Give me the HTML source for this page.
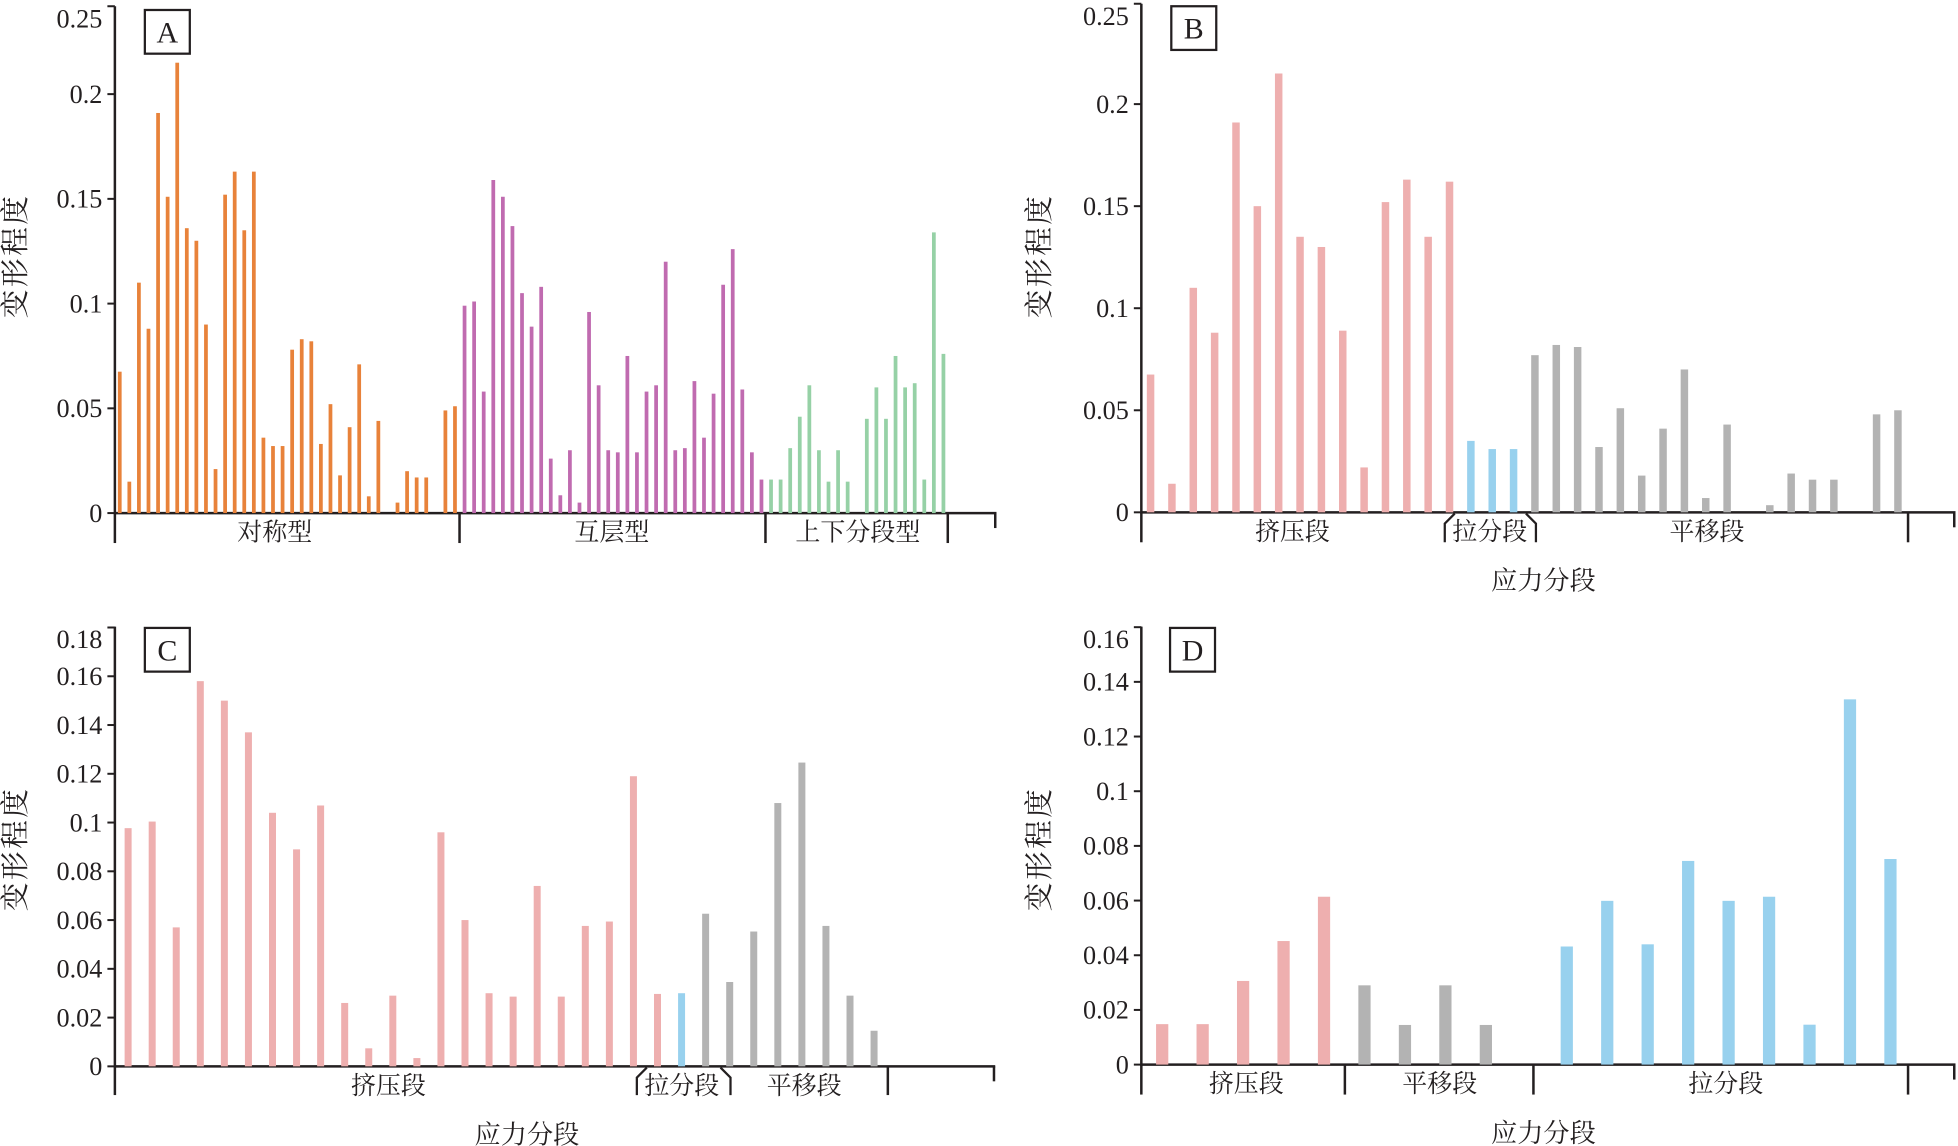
<!DOCTYPE html>
<html><head><meta charset="utf-8">
<style>
html,body{margin:0;padding:0;background:#fff;}
svg{display:block;}
text{font-family:"Liberation Serif","Noto Serif CJK SC","Noto Sans CJK SC",serif;fill:#231f20;}
.cjk{font-family:"Liberation Serif","Noto Serif CJK SC","Noto Sans CJK SC",serif;}
</style></head>
<body>
<svg id="fig" width="1958" height="1146" viewBox="0 0 1568 918" preserveAspectRatio="none" xmlns="http://www.w3.org/2000/svg"></svg>
<script>
// ---- Panel A data ----
const aSymValues=[0.0675,0.015,0.110,0.088,0.191,0.151,0.215,0.136,0.130,0.090,0.021,0.152,0.163,0.135,0.163,0.036,0.032,0.032,0.078,0.083,0.082,0.033,0.052,0.018,0.041,0.071,0.008,0.044,0,0.005,0.020,0.017,0.017,0,0.049,0.051];
const aInterValues=[0.099,0.101,0.058,0.159,0.151,0.137,0.105,0.089,0.108,0.026,0.0085,0.030,0.005,0.096,0.061,0.030,0.029,0.075,0.029,0.058,0.061,0.120,0.030,0.031,0.063,0.036,0.057,0.109,0.126,0.059,0.029,0.016];
const aUpDownValues=[0.016,0.016,0.031,0.046,0.061,0.030,0.015,0.030,0.015,0,0.045,0.060,0.045,0.075,0.060,0.062,0.016,0.134,0.076];
const aTicks=[0,0.05,0.1,0.15,0.2,0.25];
const aTickLabels=["0","0.05","0.1","0.15","0.2","0.25"];
const aCategories=["对称型","互层型","上下分段型"];
// ---- Panel B data ----
const bCompValues=[0.0675,0.014,0.110,0.088,0.191,0.150,0.215,0.135,0.130,0.089,0.022,0.152,0.163,0.135,0.162];
const bExtValues=[0.035,0.031,0.031];
const bStrikeValues=[0.077,0.082,0.081,0.032,0.051,0.018,0.041,0.070,0.007,0.043,0,0.0035,0.019,0.016,0.016,0,0.048,0.050];
const bTicks=[0,0.05,0.1,0.15,0.2,0.25];
const bTickLabels=["0","0.05","0.1","0.15","0.2","0.25"];
const bCategories=["挤压段","拉分段","平移段"];
// ---- Panel C data ----
const cCompValues=[0.0977,0.1004,0.057,0.158,0.150,0.137,0.104,0.089,0.107,0.026,0.0074,0.029,0.0034,0.096,0.060,0.030,0.0286,0.074,0.0286,0.0576,0.0594,0.119,0.0297];
const cExtValues=[0.030];
const cStrikeValues=[0.0626,0.0346,0.0553,0.108,0.1246,0.0576,0.029,0.0146];
const cTicks=[0,0.02,0.04,0.06,0.08,0.1,0.12,0.14,0.16,0.18];
const cTickLabels=["0","0.02","0.04","0.06","0.08","0.1","0.12","0.14","0.16","0.18"];
const cCategories=["挤压段","拉分段","平移段"];
// ---- Panel D data ----
const dCompValues=[0.0148,0.0148,0.0306,0.0452,0.0614];
const dStrikeValues=[0.029,0.0145,0.029,0.0145,0];
const dExtValues=[0.0432,0.0599,0.044,0.0745,0.0599,0.0614,0.0146,0.1336,0.0752];
const dTicks=[0,0.02,0.04,0.06,0.08,0.1,0.12,0.14,0.16];
const dTickLabels=["0","0.02","0.04","0.06","0.08","0.1","0.12","0.14","0.16"];
const dCategories=["挤压段","平移段","拉分段"];

const NS="http://www.w3.org/2000/svg";
const svg=document.getElementById('fig');
function mk(tag,attrs,parent){const e=document.createElementNS(NS,tag);for(const k in attrs)e.setAttribute(k,attrs[k]);(parent||svg).appendChild(e);return e;}
const AX="#231f20";

function panel(cfg){
  const g=mk('g',{});
  
  
  const y=v=>cfg.y0-v*cfg.k;
  // axes
  const ya=mk('line',{x1:cfg.ax,y1:cfg.top,x2:cfg.ax,y2:cfg.y0+1,stroke:AX,'stroke-width':2},g);
  
  
  const xa=mk('line',{x1:cfg.ax,y1:cfg.y0,x2:cfg.xEnd,y2:cfg.y0,stroke:AX,'stroke-width':2},g);
  
  
  cfg.ticks.forEach((t,i)=>{
    const ty=Math.max(y(t),cfg.top);
    mk('line',{x1:cfg.ax-6,y1:ty,x2:cfg.ax,y2:ty,stroke:AX,'stroke-width':1.6},g);
    const lbl=mk('text',{x:cfg.ax-10,y:Math.max(ty,cfg.top+10)+7,'text-anchor':'end','font-size':21},g);
    lbl.textContent=cfg.tickLabels[i];
    
    
  });
  // bars
  let idx=0;
  cfg.series.forEach(s=>{
    s.values.forEach(v=>{
      const cx=cfg.x0+idx*cfg.step;
      if(v>0){
        const b=mk('rect',{x:cx-cfg.bw/2,y:y(v),width:cfg.bw,height:cfg.y0-y(v),fill:s.color},g);
        
        
      }
      idx++;
    });
  });
  // category separators
  cfg.seps.forEach(sx=>{mk('line',{x1:sx,y1:cfg.y0,x2:sx,y2:cfg.y0+cfg.sepH,stroke:AX,'stroke-width':2},g);});
  mk('line',{x1:cfg.xEnd-1,y1:cfg.y0,x2:cfg.xEnd-1,y2:cfg.y0+12,stroke:AX,'stroke-width':2},g);
  if(cfg.bracket){
    const [l,r]=cfg.bracket,b=cfg.y0+cfg.sepH;
    mk('path',{d:`M${l+8} ${cfg.y0+1} L${l} ${cfg.y0+9} L${l} ${b}`,fill:'none',stroke:AX,'stroke-width':1.8},g);
    mk('path',{d:`M${r-8} ${cfg.y0+1} L${r} ${cfg.y0+9} L${r} ${b}`,fill:'none',stroke:AX,'stroke-width':1.8},g);
  }
  cfg.cats.forEach((c,i)=>{
    const t=mk('text',{x:cfg.catX[i],y:cfg.y0+22,'text-anchor':'middle','font-size':20,class:'cjk'},g);
    t.textContent=c;
    
    
  });
  if(cfg.xTitle){
    const t=mk('text',{x:cfg.xTitleX,y:cfg.y0+62,'text-anchor':'middle','font-size':21,class:'cjk'},g);
    t.textContent='应力分段';
    
    
  }
  const yt=mk('text',{x:0,y:0,'text-anchor':'middle','font-size':23,class:'cjk',transform:`translate(${cfg.ytX},${cfg.ytY}) rotate(-90)`,'letter-spacing':2},g);
  yt.textContent='变形程度';
  
  
  const bx=mk('rect',{x:cfg.box[0],y:cfg.box[1],width:36,height:35,fill:'#fff',stroke:AX,'stroke-width':1.8},g);
  
  
  const bt=mk('text',{x:cfg.box[0]+18,y:cfg.box[1]+26,'text-anchor':'middle','font-size':24},g);
  bt.textContent=cfg.letter;
  
  
}

panel({name:'panel-a',letter:'A',ax:92,top:5,y0:411,k:1678,xEnd:798,x0:95.9,step:7.67,bw:3,
  ticks:aTicks,tickLabels:aTickLabels,
  series:[{name:'symmetric',values:aSymValues,color:'#E8823A'},{name:'interlayer',values:aInterValues,color:'#C06BB0'},{name:'updown',values:aUpDownValues,color:'#96D1A6'}],
  seps:[92,368,613,759],sepH:24,cats:aCategories,catX:[220,490,687],xTitle:false,
  ytX:20,ytY:205,box:[116,8]});

panel({name:'panel-b',letter:'B',ax:914,top:3,y0:410.4,k:1635,xEnd:1566,x0:921.4,step:17.1,bw:6,
  ticks:bTicks,tickLabels:bTickLabels,
  series:[{name:'compression',values:bCompValues,color:'#EEAFAF'},{name:'extension',values:bExtValues,color:'#98D1EE'},{name:'strike-slip',values:bStrikeValues,color:'#B3B3B3'}],
  seps:[914,1528],sepH:24,bracket:[1157,1230],cats:bCategories,catX:[1035,1193,1367],xTitle:true,xTitleX:1236,
  ytX:840,ytY:205,box:[938,5]});

panel({name:'panel-c',letter:'C',ax:92,top:502,y0:854.2,k:1953,xEnd:797,x0:102.6,step:19.27,bw:5.6,
  ticks:cTicks,tickLabels:cTickLabels,
  series:[{name:'compression',values:cCompValues,color:'#EEAFAF'},{name:'extension',values:cExtValues,color:'#98D1EE'},{name:'strike-slip',values:cStrikeValues,color:'#B3B3B3'}],
  seps:[92,711],sepH:23,bracket:[510,585],cats:cCategories,catX:[311,546,644],xTitle:true,xTitleX:422,
  ytX:20,ytY:680,box:[116,503]});

panel({name:'panel-d',letter:'D',ax:914,top:502,y0:852.8,k:2190,xEnd:1566,x0:930.7,step:32.4,bw:9.8,
  ticks:dTicks,tickLabels:dTickLabels,
  series:[{name:'compression',values:dCompValues,color:'#EEAFAF'},{name:'strike-slip',values:dStrikeValues,color:'#B3B3B3'},{name:'extension',values:dExtValues,color:'#98D1EE'}],
  seps:[914,1077,1228,1528],sepH:24,cats:dCategories,catX:[998,1153,1382],xTitle:true,xTitleX:1236,
  ytX:840,ytY:680,box:[937,503]});
</script>
</body></html>
